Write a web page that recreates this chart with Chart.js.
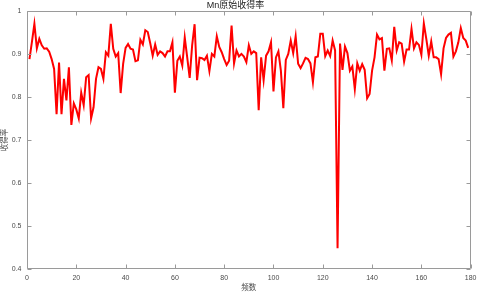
<!DOCTYPE html>
<html>
<head>
<meta charset="utf-8">
<script src="https://cdn.jsdelivr.net/npm/chart.js@4/dist/chart.umd.min.js"></script>
<style>
  html, body { margin: 0; padding: 0; background: #ffffff; }
  #wrap { width: 481px; height: 294px; }
</style>
</head>
<body>
<div id="wrap"><canvas id="c" width="481" height="294"></canvas></div>
<script>
// ---- data ----
const titleText = 'Mn原始收得率';
const xTitle = '频数';
const yTitle = '收得率';
const xTicks = [0, 20, 40, 60, 80, 100, 120, 140, 160, 180];
const yTicks = [0.4, 0.5, 0.6, 0.7, 0.8, 0.9, 1];
const frequency = Array.from({length: 179}, (_, i) => i + 1);
const yieldRate = [
  0.888, 0.928, 0.970, 0.913, 0.935, 0.920, 0.912, 0.913, 0.905, 0.888,
  0.865, 0.760, 0.880, 0.760, 0.842, 0.792, 0.869, 0.735, 0.785, 0.771,
  0.750, 0.810, 0.781, 0.846, 0.851, 0.750, 0.776, 0.842, 0.869, 0.865,
  0.842, 0.904, 0.896, 0.970, 0.912, 0.894, 0.902, 0.809, 0.877, 0.914,
  0.923, 0.912, 0.910, 0.883, 0.885, 0.933, 0.922, 0.955, 0.951, 0.925,
  0.896, 0.922, 0.898, 0.906, 0.902, 0.894, 0.906, 0.906, 0.927, 0.810,
  0.884, 0.894, 0.873, 0.938, 0.892, 0.844, 0.920, 0.969, 0.839, 0.891,
  0.890, 0.886, 0.896, 0.860, 0.900, 0.894, 0.941, 0.916, 0.904, 0.888,
  0.874, 0.884, 0.966, 0.878, 0.908, 0.894, 0.900, 0.894, 0.881, 0.920,
  0.900, 0.906, 0.902, 0.769, 0.892, 0.839, 0.896, 0.906, 0.927, 0.813,
  0.892, 0.906, 0.861, 0.774, 0.886, 0.900, 0.931, 0.902, 0.941, 0.877,
  0.867, 0.878, 0.891, 0.888, 0.878, 0.834, 0.892, 0.894, 0.947, 0.947,
  0.895, 0.908, 0.895, 0.931, 0.908, 0.448, 0.924, 0.863, 0.917, 0.902,
  0.861, 0.871, 0.818, 0.878, 0.861, 0.876, 0.863, 0.797, 0.807, 0.861,
  0.892, 0.945, 0.934, 0.937, 0.861, 0.912, 0.913, 0.885, 0.963, 0.908,
  0.927, 0.924, 0.882, 0.910, 0.910, 0.958, 0.913, 0.927, 0.921, 0.898,
  0.971, 0.935, 0.896, 0.929, 0.892, 0.892, 0.888, 0.853, 0.913, 0.937,
  0.945, 0.949, 0.894, 0.906, 0.927, 0.960, 0.937, 0.931, 0.914
];

// ---- style ----
const AXIS = '#9a9a9a';
const LABEL = '#4a4a4a';
const TL = 4;
const SANS = '"Liberation Sans", Arial, "Noto Sans CJK SC", sans-serif';

const boxTicks = {
  id: 'boxTicks',
  afterDraw(chart) {
    const {ctx, chartArea: a, scales: {x, y}} = chart;
    ctx.save();
    ctx.strokeStyle = AXIS;
    ctx.lineWidth = 1;
    ctx.beginPath();
    const L = Math.round(a.left) + 0.5, R = Math.round(a.right) - 0.5;
    const T = Math.round(a.top) + 0.5, B = Math.round(a.bottom) - 0.5;
    ctx.rect(L, T, R - L, B - T);
    x.ticks.forEach(t => {
      const px = Math.round(x.getPixelForValue(t.value)) + 0.5;
      ctx.moveTo(px, B); ctx.lineTo(px, B - TL);
      ctx.moveTo(px, T); ctx.lineTo(px, T + TL);
    });
    y.ticks.forEach(t => {
      const py = Math.round(y.getPixelForValue(t.value)) + 0.5;
      ctx.moveTo(L, py); ctx.lineTo(L + TL, py);
      ctx.moveTo(R, py); ctx.lineTo(R - TL, py);
    });
    ctx.stroke();
    ctx.restore();
  }
};

new Chart(document.getElementById('c'), {
  type: 'line',
  data: {
    datasets: [{
      data: frequency.map((f, i) => ({x: f, y: yieldRate[i]})),
      borderColor: '#ff0000',
      borderWidth: 2,
      pointRadius: 0,
      tension: 0,
      fill: false
    }]
  },
  options: {
    responsive: false,
    animation: false,
    devicePixelRatio: 1,
    layout: { padding: { left: 0, right: 10, top: 0, bottom: 0 } },
    plugins: {
      legend: { display: false },
      tooltip: { enabled: false },
      title: {
        display: true,
        text: titleText,
        color: '#222222',
        font: { family: SANS, size: 9, weight: 'normal', lineHeight: 1.1 },
        padding: { top: 1, bottom: 0 }
      }
    },
    scales: {
      x: {
        type: 'linear',
        min: 0, max: 180,
        afterBuildTicks: s => { s.ticks = xTicks.map(v => ({value: v})); },
        afterFit: s => { s.height = 25; },
        grid: { display: false, drawTicks: false },
        border: { display: false },
        ticks: {
          color: LABEL, padding: 4.5, maxRotation: 0, autoSkip: false,
          font: { family: SANS, size: 7 },
          callback: v => String(v)
        },
        title: {
          display: true, text: xTitle, color: LABEL,
          font: { family: SANS, size: 7.5, lineHeight: 1.2 },
          padding: { top: 0, bottom: 1.2 }
        }
      },
      y: {
        type: 'linear',
        min: 0.4, max: 1,
        afterBuildTicks: s => { s.ticks = yTicks.map(v => ({value: v})); },
        afterFit: s => { s.width = 27; },
        grid: { display: false, drawTicks: false },
        border: { display: false },
        ticks: {
          color: LABEL, padding: 5.5, autoSkip: false,
          font: { family: SANS, size: 7 },
          callback: v => String(v)
        },
        title: {
          display: true, text: yTitle, color: LABEL,
          font: { family: SANS, size: 7.5, lineHeight: 1.2 },
          padding: { top: 0.5, bottom: 0 }
        }
      }
    }
  },
  plugins: [boxTicks]
});
</script>
</body>
</html>
